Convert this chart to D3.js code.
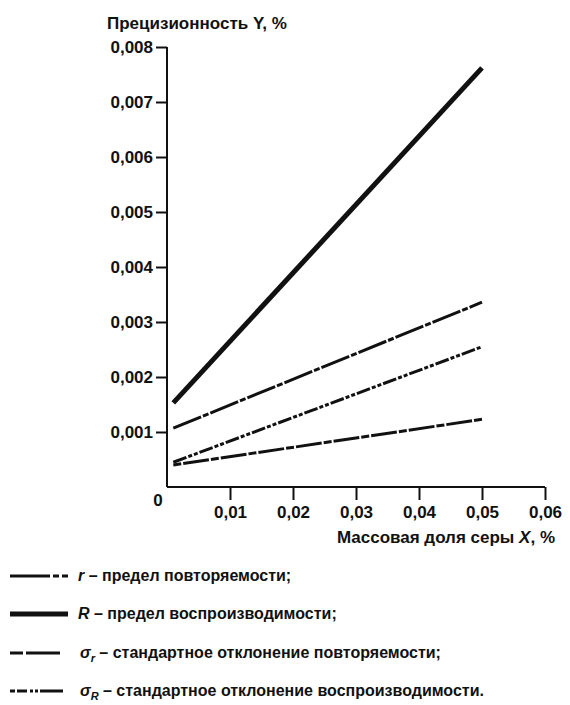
<!DOCTYPE html>
<html>
<head>
<meta charset="utf-8">
<script src="https://cdn.jsdelivr.net/npm/d3@7"></script>
<style>
  body { margin: 0; background: #fff; }
  svg text { font-family: "Liberation Sans", Arial, sans-serif; font-weight: bold; fill: #111; }
</style>
</head>
<body>
<div id="chart"></div>
<script>
// values
var xTicks = [0.01, 0.02, 0.03, 0.04, 0.05, 0.06]
var yTicks = [0.001, 0.002, 0.003, 0.004, 0.005, 0.006, 0.007, 0.008]
var xPoints = [0.001, 0.05]
var limitR = [0.00153, 0.00762]     // R
var limitr = [0.00107, 0.00336]     // r
var sigmaR = [0.00045, 0.00255]     // sigma R
var sigmar = [0.0004, 0.00123]      // sigma r

var series = [
    { key: "r", values: limitr, width: 3, dash: "30,2,6,2" },
    { key: "R", values: limitR, width: 5, dash: null },
    { key: "sr", values: sigmar, width: 3, dash: "8,2,26,2" },
    { key: "sR", values: sigmaR, width: 3, dash: "14,2,4,2,4,2" }
]

var width = 570
var height = 705

var svg = d3.select("#chart")
    .append("svg")
    .attr("width", width)
    .attr("height", height)

var x = d3.scaleLinear().domain([0, 0.06]).range([167, 545])
var y = d3.scaleLinear().domain([0, 0.008]).range([487, 47])

// axes
var xAxis = svg.append("g")
    .attr("transform", "translate(0," + y(0) + ")")
    .call(d3.axisBottom(x).tickValues(xTicks).tickSize(13).tickPadding(6)
        .tickFormat(function(d) { return d3.format(".2f")(d).replace(".", ",") }))
var yAxis = svg.append("g")
    .attr("transform", "translate(" + x(0) + ",0)")
    .call(d3.axisLeft(y).tickValues(yTicks).tickSize(11).tickPadding(3)
        .tickFormat(function(d) { return d3.format(".3f")(d).replace(".", ",") }))

svg.selectAll(".domain").attr("stroke", "#111").attr("stroke-width", 2)
xAxis.select(".domain").attr("d", "M" + x(0) + ",0H" + x(0.06))
yAxis.select(".domain").attr("d", "M0," + y(0) + "V" + y(0.008))
svg.selectAll(".tick line").attr("stroke", "#111").attr("stroke-width", 2)
svg.selectAll(".tick text").style("font-size", "17px").attr("fill", "#111")

svg.append("text")
    .attr("x", 158).attr("y", 506)
    .attr("text-anchor", "middle")
    .style("font-size", "17px")
    .text("0")

svg.append("text")
    .attr("x", 107).attr("y", 29)
    .style("font-size", "17px")
    .text("Прецизионность Y, %")

var xLabel = svg.append("text")
    .attr("x", 555).attr("y", 543)
    .attr("text-anchor", "end")
    .style("font-size", "17px")
xLabel.append("tspan").text("Массовая доля серы ")
xLabel.append("tspan").style("font-style", "italic").text("X")
xLabel.append("tspan").text(", %")

// lines
var line = d3.line()
    .x(function(d, i) { return x(xPoints[i]) })
    .y(function(d) { return y(d) })

svg.selectAll(".series")
    .data(series)
    .enter()
    .append("path")
    .attr("d", function(d) { return line(d.values) })
    .attr("fill", "none")
    .attr("stroke", "#111")
    .attr("stroke-width", function(d) { return d.width })
    .attr("stroke-dasharray", function(d) { return d.dash })

// legend
var legendY = [576, 614, 653, 691]
var legendDash = ["40,3,6,3,6,3", null, "13,3,34", "5,2,10,3,3,2,3,2,40"]
var legend = svg.selectAll(".legend")
    .data(series)
    .enter()
    .append("g")
    .attr("transform", function(d, i) { return "translate(0," + legendY[i] + ")" })

legend.append("line")
    .attr("x1", 10).attr("x2", function(d, i) { return i < 2 ? 68 : 63 })
    .attr("stroke", "#111")
    .attr("stroke-width", function(d) { return d.width })
    .attr("stroke-dasharray", function(d, i) { return legendDash[i] })

legend.each(function(d, i) {
    var t = d3.select(this).append("text")
        .attr("x", i < 2 ? 78 : 80).attr("y", 5)
        .style("font-size", "16px")
    if (d.key == "r" || d.key == "R") {
        t.append("tspan").style("font-style", "italic").text(d.key)
        t.append("tspan").text(d.key == "r" ? " – предел повторяемости;" : " – предел воспроизводимости;")
    } else {
        t.append("tspan").style("font-style", "italic").text("σ")
        t.append("tspan").style("font-style", "italic").style("font-size", "11px").attr("dy", 4)
            .text(d.key == "sr" ? "r" : "R")
        t.append("tspan").attr("dy", -4)
            .text(d.key == "sr" ? " – стандартное отклонение повторяемости;" : " – стандартное отклонение воспроизводимости.")
    }
})
</script>
</body>
</html>
